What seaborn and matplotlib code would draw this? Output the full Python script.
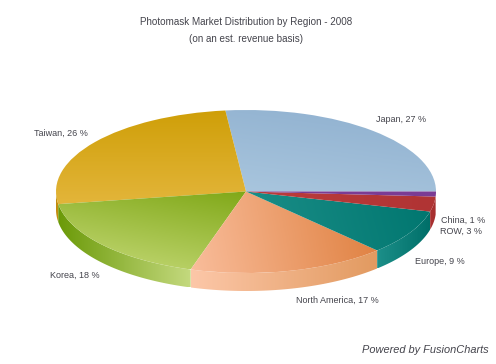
import numpy as np
import matplotlib
matplotlib.use('Agg')
import matplotlib.pyplot as plt
from matplotlib.patches import Polygon
import seaborn as sns

# dados
regioes = ['Japan', 'Taiwan', 'Korea', 'North America', 'Europe', 'ROW', 'China']
valores = [27, 26, 18, 17, 9, 3, 1]

# cores do topo: (inicio, fim, angulo do gradiente)
cores_topo = [('#a9c6de', '#8fb0cf', 70), ('#e3b53a', '#cf9f08', 90), ('#c6da78', '#80a818', 65),
              ('#f9bd9b', '#df7f3e', 5), ('#1c8f89', '#00766f', 5), ('#bb3c3c', '#b03434', 0),
              ('#7b3c94', '#7b3c94', 0)]
# cores da lateral
cores_lado = [('#94b4d0', '#94b4d0'), ('#c08a10', '#c8940f'), ('#6b9a08', '#c4d97e'),
              ('#fcc7a8', '#e29a60'), ('#1c8f89', '#006f69'), ('#a83030', '#a83030'),
              ('#6a2f80', '#6a2f80')]

W, H = 496, 364
CX, CY, A, B = 246, 191.5, 190, 81.5
PROF = 18 / B

sns.set_theme(style='white')
plt.rcParams['font.family'] = ['Liberation Sans', 'DejaVu Sans']

fig = plt.figure(figsize=(W / 100, H / 100), dpi=100, facecolor='white')
ax = fig.add_axes([0, 0, 1, 1])

fatias, _ = ax.pie(valores, startangle=0, counterclock=True, radius=1, center=(0, 0),
                   wedgeprops={'facecolor': 'none', 'edgecolor': 'none', 'zorder': 1})


def gradiente(path, c0, c1, ang, z):
    # preenche o path com um gradiente linear
    box = path.get_extents()
    xx, yy = np.meshgrid(np.linspace(0, 1, 128), np.linspace(0, 1, 128))
    r = np.radians(ang)
    g = xx * np.cos(r) + yy * np.sin(r)
    g = (g - g.min()) / (g.max() - g.min() + 1e-9)
    cmap = sns.blend_palette([c0, c1], n_colors=128, as_cmap=True)
    im = ax.imshow(g, extent=[box.x0, box.x1, box.y0, box.y1], origin='lower',
                   cmap=cmap, vmin=0, vmax=1, aspect='auto', zorder=z, interpolation='bilinear')
    return im


# lateral do disco (so a metade de baixo aparece)
limites = 360 * np.cumsum([0] + valores) / sum(valores)
for i in range(len(valores)):
    t = np.radians(np.linspace(max(limites[i], 180), limites[i + 1], 60))
    if limites[i + 1] <= 180:
        continue
    x, y = np.cos(t), np.sin(t)
    pts = np.r_[np.c_[x, y], np.c_[x, y - PROF][::-1]]
    lado = Polygon(pts, closed=True, facecolor='none', edgecolor='none')
    ax.add_patch(lado)
    im = gradiente(lado.get_path(), cores_lado[i][0], cores_lado[i][1], 0, 2)
    im.set_clip_path(lado)

# topo do disco
for i, fatia in enumerate(fatias):
    caminho = fatia.get_patch_transform().transform_path(fatia.get_path())
    c0, c1, ang = cores_topo[i]
    im = gradiente(caminho, c0, c1, ang, 3)
    im.set_clip_path(fatia)

ax.set_aspect('auto')
ax.set_xlim(-CX / A, (W - CX) / A)
ax.set_ylim(-(H - CY) / B, CY / B)
ax.axis('off')


def texto(px, py, s, **kw):
    fig.text(px / W, 1 - py / H, s, color='#44444c', ha=kw.pop('ha', 'center'), va='center', **kw)


texto(246, 22, 'Photomask Market Distribution by Region - 2008', fontsize=7.1)
texto(246, 39, '(on an est. revenue basis)', fontsize=7.1)

rotulos = [f'{r}, {v} %' for r, v in zip(regioes, valores)]
posicoes = [(401, 120), (61, 133), (75, 275), (337, 300), (440, 261), (461, 231), (463, 220)]
for s, (px, py) in zip(rotulos, posicoes):
    texto(px, py, s, fontsize=6.5)

texto(425, 350, 'Powered by FusionCharts', fontsize=7.9, style='italic')

fig.savefig('out.png', dpi=100, facecolor='white')
